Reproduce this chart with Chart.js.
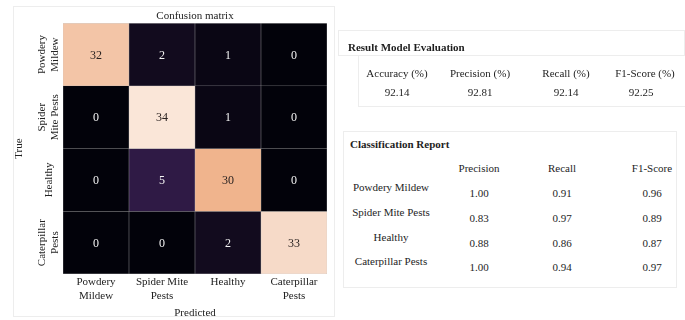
<!DOCTYPE html>
<html>
<head>
<meta charset="utf-8">
<script src="https://cdn.jsdelivr.net/npm/chart.js@4.4.1/dist/chart.umd.min.js"></script>
<style>
  body { margin: 0; background: #fff; font-family: 'Liberation Serif', 'Times New Roman', serif; color: #1e1e1e; }
  #page { position: relative; width: 685px; height: 320px; overflow: hidden; }
  .box { position: absolute; border: 1px solid #ededed; box-sizing: border-box; }
  .txt { position: absolute; font-size: 11px; line-height: 13px; white-space: nowrap; transform: translate(-50%, -50%); }
  .head { position: absolute; font-size: 11px; font-weight: bold; white-space: nowrap; transform: translateY(-50%); }
  #matrix { position: absolute; left: 0; top: 0; }
</style>
</head>
<body>
<div id="page">
  <div class="box" style="left:13px;top:6px;width:322px;height:311px"></div>
  <canvas id="matrix" width="340" height="320"></canvas>
  <div class="box" style="left:338px;top:30px;width:347px;height:26px"></div>
  <div class="box" style="left:358px;top:55px;width:330px;height:52px"></div>
  <div class="box" style="left:343px;top:131px;width:334px;height:157px"></div>
  <div class="head" style="left:348px;top:47px">Result Model Evaluation</div>
  <div class="head" style="left:350px;top:144px">Classification Report</div>
  <div id="tables"></div>
</div>
<script>
// confusion matrix rows (true class), columns = predicted class
var powderyMildewRow = [32, 2, 1, 0];
var spiderMiteRow = [0, 34, 1, 0];
var healthyRow = [0, 5, 30, 0];
var caterpillarRow = [0, 0, 2, 33];

var predictedLabels = [['Powdery', 'Mildew'], ['Spider Mite', 'Pests'], ['Healthy'], ['Caterpillar', 'Pests']];
var trueLabels = [['Powdery', 'Mildew'], ['Spider', 'Mite Pests'], ['Healthy'], ['Caterpillar', 'Pests']];

// overall scores
var evalMetrics = ['Accuracy (%)', 'Precision (%)', 'Recall (%)', 'F1-Score (%)'];
var evalScores = [92.14, 92.81, 92.14, 92.25];

// per class report
var reportHeaders = ['Precision', 'Recall', 'F1-Score'];
var reportClasses = ['Powdery Mildew', 'Spider Mite Pests', 'Healthy', 'Caterpillar Pests'];
var reportPrecision = [1.00, 0.83, 0.88, 1.00];
var reportRecall = [0.91, 0.97, 0.86, 0.94];
var reportF1 = [0.96, 0.89, 0.87, 0.97];

var serif = "'Liberation Serif', 'Times New Roman', serif";

window.addEventListener("load", function() {
    renderMatrix();
    renderTables();
});

// rocket-like colour ramp
var rampStops = [
    [0.00, [2, 2, 10]],
    [0.03, [10, 6, 20]],
    [0.06, [18, 11, 30]],
    [0.15, [48, 26, 70]],
    [0.35, [120, 30, 90]],
    [0.60, [217, 40, 71]],
    [0.80, [240, 120, 85]],
    [0.88, [240, 179, 140]],
    [0.94, [243, 196, 166]],
    [0.97, [246, 218, 200]],
    [1.00, [250, 230, 216]]
];

function rampColor(t) {
    for (var i = 1; i < rampStops.length; i++) {
        if (t <= rampStops[i][0]) {
            var a = rampStops[i - 1], b = rampStops[i];
            var f = (t - a[0]) / (b[0] - a[0]);
            var c = a[1].map(function(v, k) { return Math.round(v + (b[1][k] - v) * f); });
            return 'rgb(' + c.join(',') + ')';
        }
    }
    return 'rgb(250,230,216)';
}

function renderMatrix() {
    var rows = [powderyMildewRow, spiderMiteRow, healthyRow, caterpillarRow];
    var maxVal = Math.max.apply(null, rows.map(function(r) { return Math.max.apply(null, r); }));

    var datasets = rows.map(function(row, r) {
        return {
            data: row.map(function() { return [r, r + 1]; }),
            counts: row,
            backgroundColor: row.map(function(v) { return rampColor(v / maxVal); }),
            borderColor: 'rgba(120,120,120,0.45)',
            borderWidth: 0.5,
            borderSkipped: false,
            barPercentage: 1,
            categoryPercentage: 1,
            grouped: false
        };
    });

    var cellText = {
        id: 'cellText',
        afterDatasetsDraw: function(chart) {
            var ctx = chart.ctx;
            ctx.save();
            ctx.font = '12px ' + serif;
            ctx.textAlign = 'center';
            ctx.textBaseline = 'middle';
            chart.data.datasets.forEach(function(ds, i) {
                chart.getDatasetMeta(i).data.forEach(function(bar, j) {
                    var v = ds.counts[j];
                    var p = bar.getCenterPoint();
                    ctx.fillStyle = v / maxVal > 0.5 ? '#2a2220' : '#f4f4f4';
                    ctx.fillText(String(v), p.x, p.y + 1);
                });
            });
            ctx.restore();
        }
    };

    // row names on the y axis, turned to read bottom-to-top
    var rowNames = {
        id: 'rowNames',
        afterDraw: function(chart) {
            var ctx = chart.ctx;
            var ys = chart.scales.y;
            var lh = 13.2;
            ctx.save();
            ctx.font = '11px ' + serif;
            ctx.fillStyle = '#222';
            ctx.textAlign = 'center';
            ctx.textBaseline = 'middle';
            ys.ticks.forEach(function(t, i) {
                var lines = trueLabels[i];
                ctx.save();
                ctx.translate(ys.right - 14, ys.getPixelForValue(t.value));
                ctx.rotate(-Math.PI / 2);
                lines.forEach(function(line, k) {
                    ctx.fillText(line, 0, (k - (lines.length - 1) / 2) * lh);
                });
                ctx.restore();
            });
            ctx.restore();
        }
    };

    Chart.defaults.font.family = serif;
    Chart.defaults.font.size = 11;
    Chart.defaults.color = '#222';

    new Chart(document.getElementById('matrix'), {
        type: 'bar',
        data: { labels: predictedLabels, datasets: datasets },
        options: {
            responsive: false,
            animation: false,
            devicePixelRatio: 1,
            layout: { padding: { left: 13, right: 13, top: 0, bottom: 0 } },
            plugins: {
                legend: { display: false },
                tooltip: { enabled: false },
                title: {
                    display: true,
                    text: 'Confusion matrix',
                    fullSize: false,
                    font: { size: 11, weight: 'normal' },
                    color: '#222',
                    padding: { top: 10, bottom: 0 }
                }
            },
            scales: {
                x: {
                    grid: { display: false, drawTicks: false },
                    border: { display: false },
                    ticks: { autoSkip: false, maxRotation: 0, padding: 2, font: { size: 11 } },
                    title: { display: true, text: 'Predicted', font: { size: 11 }, padding: { top: 4, bottom: 0 } },
                    afterFit: function(scale) { scale.height = 46; }
                },
                y: {
                    type: 'linear',
                    min: 0,
                    max: 4,
                    reverse: true,
                    grid: { display: false, drawTicks: false },
                    border: { display: false },
                    afterBuildTicks: function(scale) {
                        scale.ticks = [0.5, 1.5, 2.5, 3.5].map(function(v) { return { value: v }; });
                    },
                    ticks: { display: false },
                    title: { display: true, text: 'True', font: { size: 11 }, padding: 0 },
                    afterFit: function(scale) { scale.width = 50; }
                }
            }
        },
        plugins: [cellText, rowNames]
    });
}

function addText(parent, text, x, y) {
    var el = document.createElement('div');
    el.className = 'txt';
    el.textContent = text;
    el.style.left = x + 'px';
    el.style.top = y + 'px';
    parent.appendChild(el);
}

function renderTables() {
    var holder = document.getElementById('tables');

    var evalX = [397, 480, 566, 645];
    evalMetrics.forEach(function(m, i) {
        addText(holder, m, evalX[i], 73);
        addText(holder, evalScores[i].toFixed(2), evalX[i] - (i == 3 ? 4 : 0), 92);
    });

    var colX = [479, 562, 652];
    reportHeaders.forEach(function(h, i) { addText(holder, h, colX[i], 168); });

    var rowY = [187, 212, 237, 261];
    reportClasses.forEach(function(name, r) {
        addText(holder, name, 391, rowY[r]);
        [reportPrecision, reportRecall, reportF1].forEach(function(col, c) {
            addText(holder, col[r].toFixed(2), colX[c], rowY[r] + 5.5);
        });
    });
}
</script>
</body>
</html>
